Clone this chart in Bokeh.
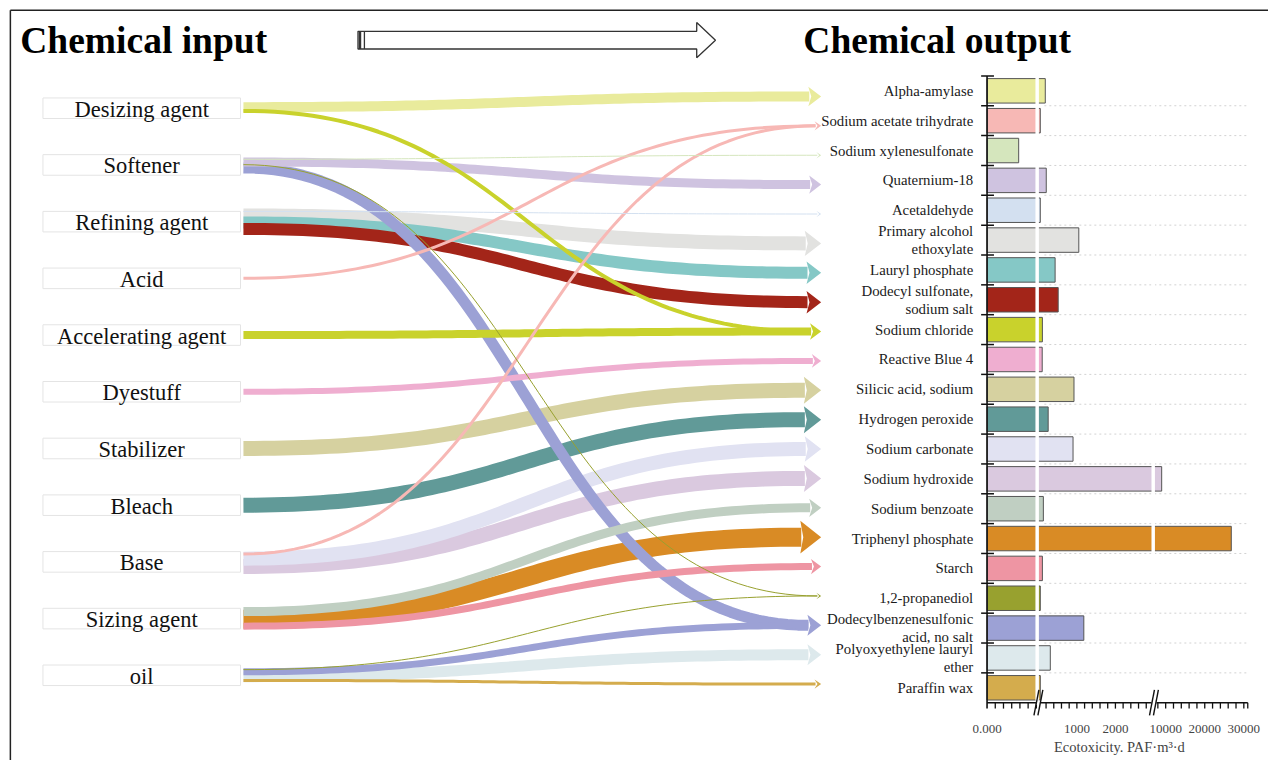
import numpy as np
from bokeh.plotting import figure
from bokeh.models import Range1d, ColumnDataSource
from bokeh.core.properties import value
from bokeh.embed import file_html
from bokeh.resources import INLINE

# ---------------- data ----------------
inputs = ["Desizing agent", "Softener", "Refining agent", "Acid", "Accelerating agent",
          "Dyestuff", "Stabilizer", "Bleach", "Base", "Sizing agent", "oil"]

outputs = ["Alpha-amylase", "Sodium acetate trihydrate", "Sodium xylenesulfonate",
           "Quaternium-18", "Acetaldehyde", "Primary alcohol\nethoxylate", "Lauryl phosphate",
           "Dodecyl sulfonate,\nsodium salt", "Sodium chloride", "Reactive Blue 4",
           "Silicic acid, sodium", "Hydrogen peroxide", "Sodium carbonate", "Sodium hydroxide",
           "Sodium benzoate", "Triphenyl phosphate", "Starch", "1,2-propanediol",
           "Dodecylbenzenesulfonic\nacid, no salt", "Polyoxyethylene lauryl\nether", "Paraffin wax"]

ecotoxicity = [180, 50, 0.77, 205, 50, 1050, 435, 515, 105, 100, 925, 255, 900, 8980,
               130, 26790, 105, 50, 1180, 310, 50]

output_colors = ["#e9eb9c", "#f7b8b5", "#d5e6bd", "#cfc3e0", "#d3e0f0", "#e2e2e0", "#85c8c6",
                 "#a32519", "#c9d22c", "#efaed0", "#d6d1a0", "#619a98", "#e1e2f2", "#dac9df",
                 "#c0cfc2", "#d98b25", "#ee95a3", "#98a12f", "#9ca1d5", "#dde9ec", "#d4ac4d"]

flow_source = ["Desizing agent", "Desizing agent", "Softener", "Softener", "Softener", "Softener",
               "Refining agent", "Refining agent", "Refining agent", "Refining agent", "Acid",
               "Accelerating agent", "Dyestuff", "Stabilizer", "Bleach", "Base", "Base", "Base",
               "Sizing agent", "Sizing agent", "Sizing agent", "oil", "oil", "oil", "oil"]
flow_target = ["Alpha-amylase", "Sodium chloride", "Sodium xylenesulfonate", "Quaternium-18",
               "1,2-propanediol", "Dodecylbenzenesulfonic\nacid, no salt", "Acetaldehyde",
               "Primary alcohol\nethoxylate", "Lauryl phosphate", "Dodecyl sulfonate,\nsodium salt",
               "Sodium acetate trihydrate", "Sodium chloride", "Reactive Blue 4",
               "Silicic acid, sodium", "Hydrogen peroxide", "Sodium acetate trihydrate",
               "Sodium carbonate", "Sodium hydroxide", "Sodium benzoate", "Triphenyl phosphate",
               "Starch", "1,2-propanediol", "Dodecylbenzenesulfonic\nacid, no salt",
               "Polyoxyethylene lauryl\nether", "Paraffin wax"]
flow_value = [10, 4, 1, 9, 1, 11, 1, 14, 12, 12, 3, 8, 6, 15, 15, 3, 14, 15, 9, 19, 7, 1, 7, 11, 3]

axis_tick_values = [0, 1000, 2000, 10000, 20000, 30000]
axis_tick_labels = ["0.000", "1000", "2000", "10000", "20000", "30000"]
minor_ticks = [0.2, 0.4, 0.6, 0.8, 1.0, 1.2] + list(range(200, 3000, 200)) + list(range(8000, 30001, 2000))

# ---------------- layout ----------------
W, H = 1268, 760
p = figure(width=W, height=H, x_range=Range1d(0, 1284), y_range=Range1d(776, 0),
           output_backend="svg", toolbar_location=None, x_axis_location=None,
           y_axis_location=None, min_border=0, outline_line_color=None)
p.xgrid.visible = False
p.ygrid.visible = False
p.background_fill_color = "white"
p.border_fill_color = "white"

SERIF = value("Liberation Serif")

# frame
p.segment(x0=[10, 10], y0=[10, 10], x1=[1284, 10], y1=[10, 776], line_color="#222", line_width=1.5)

# titles
p.text(x=[20, 813], y=[41, 41], text=["Chemical input", "Chemical output"], text_font=SERIF,
       text_font_style="bold", text_font_size=value("37.5px"), text_align="left",
       text_baseline="middle", text_color="black")

# big arrow
ax0, ax1, ah = 362, 724, 19
p.patch(x=[ax0, ax1 - ah, ax1 - ah, ax1, ax1 - ah, ax1 - ah, ax0],
        y=[31.5, 31.5, 22.5, 40.5, 58.5, 49.5, 49.5],
        fill_color="white", line_color="#333", line_width=1.3)
p.segment(x0=[364, 368.5], y0=[31.5, 31.5], x1=[364, 368.5], y1=[49.5, 49.5],
          line_color="#333", line_width=[2.5, 1.3])

# ---------------- input nodes ----------------
src_y0, src_pitch = 110, 57.9
src_y = {n: src_y0 + src_pitch * j for j, n in enumerate(inputs)}
p.rect(x=[143] * len(inputs), y=[src_y[n] for n in inputs], width=200, height=21,
       fill_color="white", line_color="#e4e4e4", line_width=1)
p.text(x=[143] * len(inputs), y=[src_y[n] + 1 for n in inputs], text=inputs, text_font=SERIF,
       text_font_size=value("22.5px"), text_align="center", text_baseline="middle",
       text_color="#111")

# ---------------- flows ----------------
tgt_y0, tgt_pitch = 98, 30
tgt_idx = {n: i for i, n in enumerate(outputs)}
tgt_y = {n: tgt_y0 + tgt_pitch * i for i, n in enumerate(outputs)}
X0, TIP = 246, 831

def head_dims(w):
    return 0.75 * w + 2.5, 0.9 * w + 4

# source stacking
start_y = [0.0] * len(flow_value)
for s in inputs:
    ids = [k for k in range(len(flow_value)) if flow_source[k] == s]
    ids.sort(key=lambda k: tgt_idx[flow_target[k]])
    tot = sum(flow_value[k] for k in ids)
    cum = 0
    for k in ids:
        w = flow_value[k]
        start_y[k] = src_y[s] + (cum + w / 2 - tot / 2) * 0.55
        cum += w

tmax = {}
for k in range(len(flow_value)):
    t = flow_target[k]
    tmax[t] = max(tmax.get(t, 0), flow_value[k])

t = np.linspace(0, 1, 80)
xs, ys, cols, ws = [], [], [], []
order = sorted(range(len(flow_value)), key=lambda k: -flow_value[k])
for k in order:
    tg = flow_target[k]
    hh, hl = head_dims(tmax[tg])
    x0, y0 = X0, start_y[k]
    x3, y3 = TIP - hl + 1, tgt_y[tg]
    c = 0.5 * (x3 - x0)
    bx = (1 - t) ** 3 * x0 + 3 * (1 - t) ** 2 * t * (x0 + c) + 3 * (1 - t) * t ** 2 * (x3 - c) + t ** 3 * x3
    by = (1 - t) ** 3 * y0 + 3 * (1 - t) ** 2 * t * y0 + 3 * (1 - t) * t ** 2 * y3 + t ** 3 * y3
    xs.append(list(bx)); ys.append(list(by))
    cols.append(output_colors[tgt_idx[tg]]); ws.append(flow_value[k])

p.multi_line(xs="xs", ys="ys", line_color="c", line_width="w", line_cap="butt", line_join="round",
             source=ColumnDataSource(dict(xs=xs, ys=ys, c=cols, w=ws)))

hxs, hys, hcs = [], [], []
for tg, w in tmax.items():
    hh, hl = head_dims(w)
    y = tgt_y[tg]
    hxs.append([TIP - hl, TIP, TIP - hl, TIP - hl + 3])
    hys.append([y - hh, y, y + hh, y])
    hcs.append(output_colors[tgt_idx[tg]])
p.patches(xs=hxs, ys=hys, fill_color=hcs, line_color=None)

# ---------------- bar chart ----------------
AX_X, AX_TOP, AX_BOT, AX_END = 999, 77, 717, 1263
BRK1, BRK2 = 1051, 1168
band = (AX_BOT - AX_TOP) / len(outputs)

def xmap(v):
    if v <= 1.25:
        return AX_X + v / 1.25 * (BRK1 - AX_X)
    if v <= 3000:
        return BRK1 + (v - 1.25) / (3000 - 1.25) * (BRK2 - BRK1)
    return BRK2 + (v - 7000) / 23500 * (AX_END - 2 - BRK2)

centers = [AX_TOP + band * (i + 0.5) for i in range(len(outputs))]
bounds = [AX_TOP + band * i for i in range(len(outputs) + 1)]

# dotted grid
p.segment(x0=[1057] * 20, y0=bounds[1:-1], x1=[1262] * 20, y1=bounds[1:-1],
          line_color="#d2d2d2", line_width=1, line_dash="2 3")

bh = band * 0.82
p.quad(left=[AX_X] * len(outputs), right=[xmap(v) for v in ecotoxicity],
       top=[c - bh / 2 for c in centers], bottom=[c + bh / 2 for c in centers],
       fill_color=output_colors, line_color="#555", line_width=1)

# break gaps
p.quad(left=[BRK1 - 3, BRK2 - 2.5], right=[BRK1 + 0.5, BRK2 + 1], top=[AX_TOP, AX_TOP],
       bottom=[AX_BOT - 2, AX_BOT - 2], fill_color="white", line_color=None)

# category labels (multi-line labels split into separate rows)
lab_txt, lab_y = [], []
for c, name in zip(centers, outputs):
    parts = name.split("\n")
    n = len(parts)
    for j, part in enumerate(parts):
        lab_txt.append(part)
        lab_y.append(c + (j - (n - 1) / 2) * 18)
p.text(x=[985] * len(lab_txt), y=lab_y, text=lab_txt, text_font=SERIF,
       text_font_size=value("14.8px"), text_align="right", text_baseline="middle",
       text_color="#1a1a1a")

# y axis line and ticks
p.segment(x0=[AX_X], y0=[AX_TOP], x1=[AX_X], y1=[AX_BOT + 6], line_color="#111", line_width=1.6)
p.segment(x0=[993] * len(bounds[:-1]), y0=bounds[:-1], x1=[1006] * len(bounds[:-1]), y1=bounds[:-1],
          line_color="#111", line_width=1.5)

# x axis
p.segment(x0=[AX_X], y0=[AX_BOT], x1=[AX_END], y1=[AX_BOT], line_color="#111", line_width=1.6)
mt = [xmap(v) for v in minor_ticks] + [AX_END]
p.segment(x0=mt, y0=[AX_BOT] * len(mt), x1=mt, y1=[AX_BOT + 6] * len(mt), line_color="#111", line_width=1.3)
# break marks
for xb in (BRK1, BRK2):
    p.segment(x0=[xb - 2.5], y0=[AX_BOT], x1=[xb + 2.5], y1=[AX_BOT], line_color="white", line_width=4)
    p.segment(x0=[xb - 4.5, xb - 0.5], y0=[AX_BOT + 13, AX_BOT + 13], x1=[xb + 0.5, xb + 4.5],
              y1=[AX_BOT - 13, AX_BOT - 13], line_color="#111", line_width=1.4)

p.text(x=[xmap(v) for v in axis_tick_values], y=[744] * len(axis_tick_values), text=axis_tick_labels,
       text_font=SERIF, text_font_size=value("13px"), text_align="center", text_baseline="middle",
       text_color="#444")
p.text(x=[1133], y=[762], text=["Ecotoxicity. PAF·m³·d"], text_font=SERIF,
       text_font_size=value("14.5px"), text_align="center", text_baseline="middle", text_color="#444")

open("out.html", "w").write(file_html(p, INLINE))
